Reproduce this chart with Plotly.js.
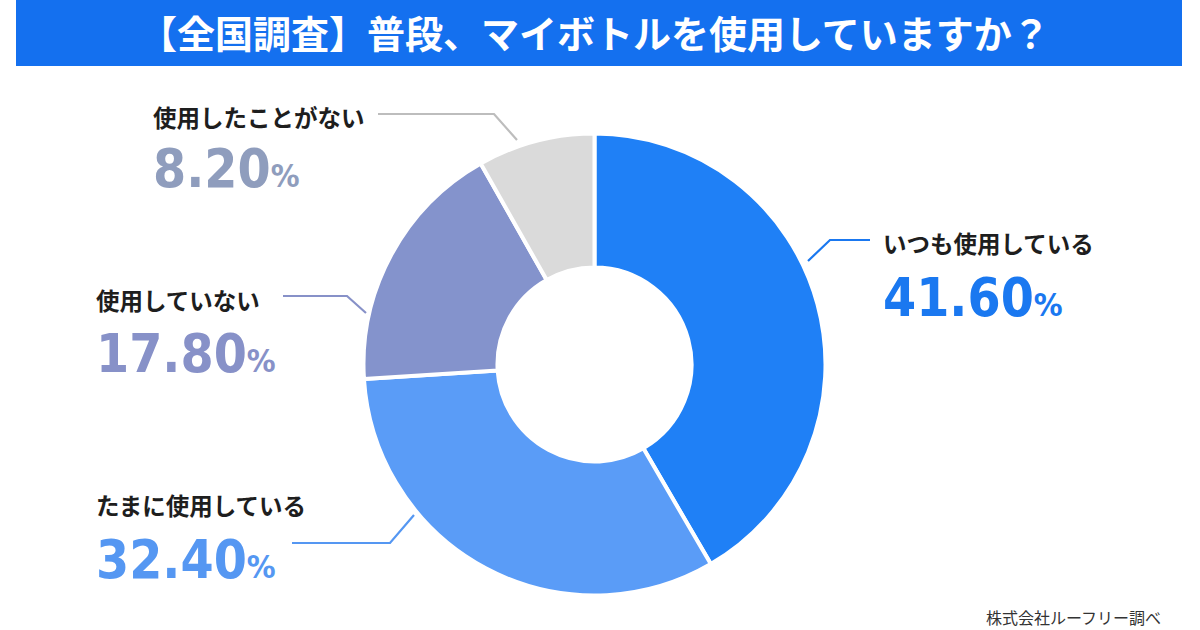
<!DOCTYPE html>
<html>
<head>
<meta charset="utf-8">
<script src="https://cdn.plot.ly/plotly-3.0.1.min.js"></script>
<style>html,body{margin:0;padding:0;background:#fff;}#chart{width:1200px;height:630px;}</style>
</head>
<body>
<div id="chart"></div>
<script>
// ---- data ----
const titleText = '【全国調査】普段、マイボトルを使用していますか？';
const categories = ['いつも使用している', 'たまに使用している', '使用していない', '使用したことがない'];
const values = [41.6, 32.4, 17.8, 8.2];
const sourceText = '株式会社ルーフリー調べ';

// ---- style ----
const W = 1200, H = 630;
const sliceColors = ['#1f80f6', '#5a9cf7', '#8493cc', '#dadada'];
const valueColors = ['#1a78f0', '#5597f2', '#8791c8', '#8f9dbd'];
const lineColors = ['#1a78f0', '#5597f2', '#8791c8', '#bdbdbd'];
// label layout per category: [x, yName, yValue] in pixels, leader path in pixels
const labelPos = [
  {x: 881, yName: 243, yVal: 297, line: [[808, 261], [830, 240], [870, 240]]},
  {x: 94,  yName: 505, yVal: 559, line: [[292, 543], [390, 543], [414, 515]]},
  {x: 94,  yName: 300, yVal: 353, line: [[283, 296], [347, 296], [366, 313]]},
  {x: 151, yName: 117, yVal: 169, line: [[378, 114], [494, 114], [517, 140]]}
];

const px = x => x / W;
const py = y => 1 - y / H;

const cx = 594.5, cy = 364.5, R = 231;

const annotations = [];
const shapes = [];

// title banner
shapes.push({type: 'rect', xref: 'paper', yref: 'paper', x0: px(16), x1: px(1182), y0: py(66), y1: py(0),
  fillcolor: '#1470ef', line: {width: 0}, layer: 'below'});
annotations.push({xref: 'paper', yref: 'paper', x: px(594), y: py(31), xanchor: 'center', yanchor: 'middle',
  text: '<b>' + titleText + '</b>', showarrow: false,
  font: {family: 'Noto Sans CJK JP', size: 38, color: '#ffffff'}});

categories.forEach((c, i) => {
  const p = labelPos[i];
  annotations.push({xref: 'paper', yref: 'paper', x: px(p.x), y: py(p.yName), xanchor: 'left', yanchor: 'middle',
    text: '<b>' + c + '</b>', showarrow: false,
    font: {family: 'Noto Sans CJK JP', size: 23.5, color: '#1e1e1e'}});
  annotations.push({xref: 'paper', yref: 'paper', x: px(p.x), y: py(p.yVal), xanchor: 'left', yanchor: 'middle',
    text: '<b>' + values[i].toFixed(2) + '<span style="font-size:32px">%</span></b>', showarrow: false,
    font: {family: 'DejaVu Sans Condensed', size: 53, color: valueColors[i]}});
  const d = p.line.map((pt, k) => (k ? 'L' : 'M') + px(pt[0]) + ',' + py(pt[1])).join(' ');
  shapes.push({type: 'path', xref: 'paper', yref: 'paper', path: d, line: {color: lineColors[i], width: 2.2}});
});

annotations.push({xref: 'paper', yref: 'paper', x: px(984), y: py(617), xanchor: 'left', yanchor: 'middle',
  text: sourceText, showarrow: false,
  font: {family: 'Noto Sans CJK JP', size: 16, color: '#333333'}});

const trace = {
  type: 'pie',
  labels: categories,
  values: values,
  sort: false,
  direction: 'clockwise',
  rotation: 0,
  hole: 0.42,
  textinfo: 'none',
  hoverinfo: 'none',
  marker: {colors: sliceColors, line: {color: '#ffffff', width: 4}},
  domain: {x: [px(cx - R), px(cx + R)], y: [py(cy + R), py(cy - R)]}
};

Plotly.newPlot('chart', [trace], {
  width: W, height: H,
  margin: {l: 0, r: 0, t: 0, b: 0},
  paper_bgcolor: '#ffffff',
  showlegend: false,
  shapes: shapes,
  annotations: annotations
}, {staticPlot: true});
</script>
</body>
</html>
